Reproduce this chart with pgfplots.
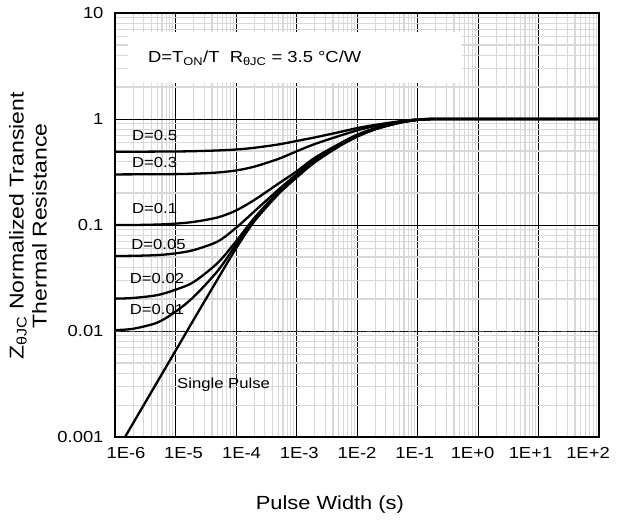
\documentclass[border=0pt]{standalone}
\usepackage{pgfplots}
\pgfplotsset{compat=1.18}
\usepackage{fontspec}
\setmainfont{Liberation Sans}[FakeStretch=1.15]
\definecolor{minorgrid}{RGB}{216,216,216}
\pgfplotsset{zcurve/.style={black, no markers, line width=2.3pt, smooth, tension=0.5}}
\begin{document}
\begin{tikzpicture}
\begin{axis}[
    at={(115bp,92bp)}, anchor=south west,
    width=484bp, height=424bp, scale only axis,
    xmode=log, ymode=log,
    xmin=1e-6, xmax=1e2,
    ymin=1e-3, ymax=10,
    xtick={1e-6,1e-5,1e-4,1e-3,1e-2,1e-1,1,10,100},
    % labels drawn slightly towards the middle, as in the reference
    xticklabels={\kern22bp 1E-6,\kern16bp 1E-5,\kern11bp 1E-4,\kern5.5bp 1E-3,1E-2,
        \kern-5.5bp 1E-1,\kern-11bp 1E+0,\kern-16bp 1E+1,\kern-22bp 1E+2},
    ytick={0.001,0.01,0.1,1,10},
    yticklabels={0.001,0.01,0.1,1,10},
    minor xtick={2e-6,3e-6,4e-6,5e-6,6e-6,7e-6,8e-6,9e-6,
        2e-5,3e-5,4e-5,5e-5,6e-5,7e-5,8e-5,9e-5,
        2e-4,3e-4,4e-4,5e-4,6e-4,7e-4,8e-4,9e-4,
        2e-3,3e-3,4e-3,5e-3,6e-3,7e-3,8e-3,9e-3,
        2e-2,3e-2,4e-2,5e-2,6e-2,7e-2,8e-2,9e-2,
        2e-1,3e-1,4e-1,5e-1,6e-1,7e-1,8e-1,9e-1,
        2,3,4,5,6,7,8,9,20,30,40,50,60,70,80,90},
    minor ytick={0.002,0.003,0.004,0.005,0.006,0.007,0.008,0.009,
        0.02,0.03,0.04,0.05,0.06,0.07,0.08,0.09,
        0.2,0.3,0.4,0.5,0.6,0.7,0.8,0.9,
        2,3,4,5,6,7,8,9},
    grid=both,
    minor grid style={minorgrid, line width=1.2pt},
    major grid style={black, line width=0.6pt},
    major tick length=0pt, minor tick length=0pt,
    axis line style={line width=1.4pt},
    ticklabel style={font=\fontsize{16bp}{19bp}\selectfont},
    xticklabel style={yshift=-7bp},
    yticklabel style={xshift=-8bp},
    xlabel={Pulse Width (s)},
    xlabel style={font=\fontsize{19bp}{23bp}\selectfont, at={(axis description cs:0.444,-0.160)}, anchor=center},
    ylabel={Z\textsubscript{θJC} Normalized Transient\\Thermal Resistance},
    ylabel style={font=\fontsize{20bp}{23bp}\selectfont, align=center, at={(axis description cs:-0.18,0.498)}, anchor=center},
    clip=true,
]
\draw[gray!60!black, line width=0.8pt, dash pattern=on 6pt off 2pt on 1pt off 2pt on 1pt off 2pt]
    (axis cs:1e-6,0.01) -- (axis cs:100,0.01);
\fill[white] (axis cs:1.64e-6,2.19) rectangle (axis cs:0.545,6.62);

% Single pulse
\addplot[zcurve] coordinates {(1e-6,0.00069)(1e-5,0.0065)(2e-5,0.0128)(5e-5,0.031)(1e-4,0.06)(2e-4,0.108)(5e-4,0.195)(1e-3,0.28)(2e-3,0.39)(5e-3,0.55)(1e-2,0.68)(2e-2,0.8)(5e-2,0.92)(1e-1,0.98)(2e-1,1)(1,1)(100,1)};
% D=0.01
\addplot[zcurve] coordinates {(1e-6,0.0102)(2e-6,0.0105)(5e-6,0.012)(1e-5,0.0152)(2e-5,0.021)(5e-5,0.037)(1e-4,0.065)(2e-4,0.112)(5e-4,0.2)(1e-3,0.285)(2e-3,0.395)(5e-3,0.555)(1e-2,0.685)(2e-2,0.8)(5e-2,0.92)(1e-1,0.98)(2e-1,1)(1,1)(100,1)};
% D=0.02
\addplot[zcurve] coordinates {(1e-6,0.0202)(2e-6,0.0205)(5e-6,0.0218)(1e-5,0.0245)(2e-5,0.029)(5e-5,0.044)(1e-4,0.07)(2e-4,0.116)(5e-4,0.205)(1e-3,0.29)(2e-3,0.4)(5e-3,0.56)(1e-2,0.69)(2e-2,0.805)(5e-2,0.925)(1e-1,0.98)(2e-1,1)(1,1)(100,1)};
% D=0.05
\addplot[zcurve] coordinates {(1e-6,0.051)(2e-6,0.0512)(5e-6,0.052)(1e-5,0.054)(2e-5,0.058)(5e-5,0.07)(1e-4,0.094)(2e-4,0.134)(5e-4,0.215)(1e-3,0.3)(2e-3,0.41)(5e-3,0.57)(1e-2,0.7)(2e-2,0.81)(5e-2,0.93)(1e-1,0.985)(2e-1,1)(1,1)(100,1)};
% D=0.1
\addplot[zcurve] coordinates {(1e-6,0.1)(2e-6,0.1)(5e-6,0.101)(1e-5,0.103)(2e-5,0.107)(5e-5,0.118)(1e-4,0.137)(2e-4,0.172)(5e-4,0.245)(1e-3,0.32)(2e-3,0.43)(5e-3,0.58)(1e-2,0.71)(2e-2,0.82)(5e-2,0.935)(1e-1,0.985)(2e-1,1)(1,1)(100,1)};
% D=0.3
\addplot[zcurve] coordinates {(1e-6,0.3)(1e-5,0.302)(2e-5,0.305)(5e-5,0.313)(1e-4,0.327)(2e-4,0.355)(5e-4,0.42)(1e-3,0.495)(2e-3,0.58)(5e-3,0.69)(1e-2,0.78)(2e-2,0.86)(5e-2,0.94)(1e-1,0.99)(2e-1,1)(1,1)(100,1)};
% D=0.5
\addplot[zcurve] coordinates {(1e-6,0.49)(1e-5,0.494)(2e-5,0.497)(5e-5,0.505)(1e-4,0.515)(2e-4,0.535)(5e-4,0.575)(1e-3,0.62)(2e-3,0.67)(5e-3,0.75)(1e-2,0.82)(2e-2,0.88)(5e-2,0.95)(1e-1,0.99)(2e-1,1)(1,1)(100,1)};

\begin{scope}[every node/.style={font=\fontsize{14.5bp}{17bp}\selectfont, anchor=west, inner sep=0pt}]
\node at (axis cs:1.91e-6,0.706) {D=0.5};
\node at (axis cs:1.91e-6,0.385) {D=0.3};
\node at (axis cs:1.91e-6,0.1416) {D=0.1};
\node at (axis cs:1.85e-6,0.0648) {D=0.05};
\node at (axis cs:1.75e-6,0.0316) {D=0.02};
\node at (axis cs:1.75e-6,0.0158) {D=0.01};
\node at (axis cs:1.06e-5,0.0031) {Single Pulse};
\end{scope}
\node[anchor=west, inner sep=0pt, font=\fontsize{16bp}{19bp}\selectfont] at (axis cs:3.5e-6,3.76)
    {D=T\textsubscript{ON}/T\ \ R\textsubscript{θJC} = 3.5 °C/W};
\end{axis}
\pgfresetboundingbox
\path[use as bounding box] (0,0) rectangle (618bp,529bp);
\end{tikzpicture}
\end{document}
